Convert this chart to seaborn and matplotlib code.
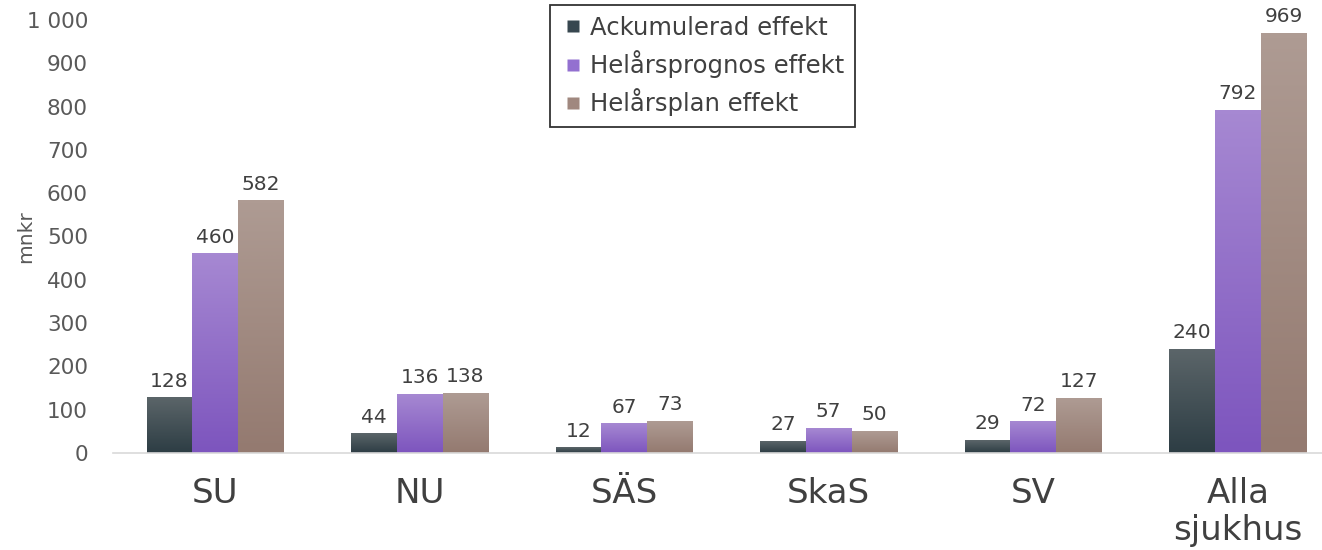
import numpy as np
import pandas as pd
import matplotlib
matplotlib.use("Agg")
import matplotlib.pyplot as plt
import seaborn as sns
from matplotlib.colors import LinearSegmentedColormap
from matplotlib.lines import Line2D

# Data
categories = ["SU", "NU", "SÄS", "SkaS", "SV", "Alla\nsjukhus"]
series = ["Ackumulerad effekt", "Helårsprognos effekt", "Helårsplan effekt"]
ackumulerad = [128, 44, 12, 27, 29, 240]
prognos = [460, 136, 67, 57, 72, 792]
plan = [582, 138, 73, 50, 127, 969]
yticks = [0, 100, 200, 300, 400, 500, 600, 700, 800, 900, 1000]

df = pd.DataFrame({
    "sjukhus": categories * 3,
    "serie": [s for s in series for _ in categories],
    "mnkr": ackumulerad + prognos + plan,
})

# gradient (top, bottom) per series
grad = {
    series[0]: ("#5b6569", "#2d3d44"),
    series[1]: ("#a688d2", "#7d55be"),
    series[2]: ("#ae9b93", "#947a70"),
}
legend_colors = {series[0]: "#37474f", series[1]: "#9370d0", series[2]: "#a0887f"}

sns.set_theme(style="white")
plt.rcParams["font.family"] = ["DejaVu Sans"]
plt.rcParams["ytick.major.pad"] = 18
plt.rcParams["xtick.major.pad"] = 17
plt.rcParams["ytick.major.size"] = 0
plt.rcParams["xtick.major.size"] = 0

fig = plt.figure(figsize=(13.22, 5.5), dpi=100)
ax = fig.add_axes([113 / 1322, 1 - 453 / 550, 1 - 113 / 1322, 433 / 550])

sns.barplot(data=df, x="sjukhus", y="mnkr", hue="serie", order=categories,
            hue_order=series, palette=legend_colors, width=0.67, gap=0,
            saturation=1, ax=ax, legend=False, errorbar=None)

# replace flat fills with vertical gradients
for cont, s in zip(ax.containers, series):
    cmap = LinearSegmentedColormap.from_list(s, [grad[s][1], grad[s][0]])
    for p in cont.patches:
        x0, y0 = p.get_x(), p.get_y()
        w, h = p.get_width(), p.get_height()
        p.set_facecolor("none")
        p.set_edgecolor("none")
        img = np.linspace(0, 1, 64).reshape(-1, 1)
        ax.imshow(img, cmap=cmap, origin="lower", aspect="auto",
                  extent=(x0, x0 + w, y0, y0 + h), zorder=2,
                  interpolation="bilinear")
    ax.bar_label(cont, labels=[f"{int(v)}" for v in cont.datavalues],
                 padding=5, fontsize=14.5, color="#404040")

ax.set_xlim(-0.5, -0.5 + 1209 / 204.5)
ax.set_ylim(0, 1000)
ax.set_yticks(yticks)
ax.set_yticklabels([f"{v:,}".replace(",", " ") for v in yticks])
ax.tick_params(axis="y", labelsize=15.5, labelcolor="#595959", length=0, pad=18)
ax.tick_params(axis="x", labelsize=24.5, labelcolor="#404040", length=0, pad=17)
for lbl in ax.get_xticklabels():
    lbl.set_linespacing(1.18)
ax.set_xlabel("")
ax.set_ylabel("mnkr", fontsize=14.5, color="#595959")
ax.yaxis.set_label_coords(-0.064, 0.50)

for side in ["top", "right", "left"]:
    ax.spines[side].set_visible(False)
ax.spines["bottom"].set_color("#d9d9d9")
ax.spines["bottom"].set_linewidth(1.2)
ax.grid(False)

handles = [Line2D([0], [0], marker="s", linestyle="none", markersize=8.5,
                  markerfacecolor=legend_colors[s], markeredgecolor="none")
           for s in series]
leg = fig.legend(handles, series, loc="upper left",
                 bbox_to_anchor=(550 / 1322, 1 - 5 / 550),
                 fontsize=17.5, labelcolor="#404040", frameon=True,
                 fancybox=False, edgecolor="black", handlelength=1.0,
                 handletextpad=0.2, labelspacing=0.42, borderpad=0.45,
                 borderaxespad=0)
leg.get_frame().set_linewidth(1.3)

fig.savefig("out.png", dpi=100)
